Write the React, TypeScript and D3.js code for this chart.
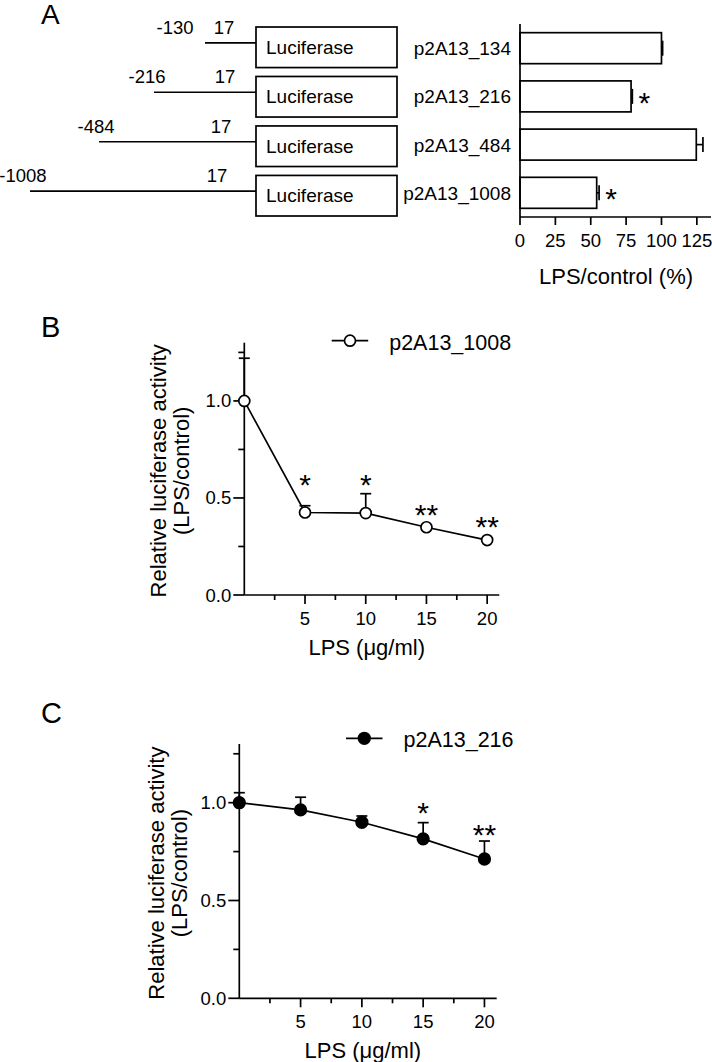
import React from "react";
import * as d3 from "d3";

// ---------- Panel A data ----------
const constructs = ["p2A13_134", "p2A13_216", "p2A13_484", "p2A13_1008"];
const promoterStart = [-130, -216, -484, -1008];
const promoterEnd = [17, 17, 17, 17];
const ratioMean = [100, 78.5, 124.6, 54.2];
const ratioErr = [0.8, 0.9, 4.7, 1.7];
const ratioSig = ["", "*", "", "*"];
const ratioTicks = [0, 25, 50, 75, 100, 125];

// ---------- Panels B / C data ----------
const lpsDose = [0, 5, 10, 15, 20];
const doseMajorTicks = [5, 10, 15, 20];
const doseMinorTicks = [2.5, 7.5, 12.5, 17.5];
const ratioMajorTicks = [0, 0.5, 1.0];
const ratioMinorTicks = [0.25, 0.75, 1.25];

const b1008Mean = [1.0, 0.425, 0.422, 0.349, 0.283];
const b1008Err = [0.22, 0.035, 0.1, 0, 0];
const b1008Sig = ["", "*", "*", "**", "**"];
const b1008SigLevel = [0, 0.603, 0.606, 0.447, 0.386];

const c216Mean = [1.0, 0.963, 0.9, 0.815, 0.712];
const c216Err = [0.051, 0.065, 0.032, 0.083, 0.092];
const c216Sig = ["", "", "", "*", "**"];
const c216SigLevel = [0, 0, 0, 0.983, 0.871];

const FONT = "'Liberation Sans', Arial, Helvetica, sans-serif";
const SW = 1.7;
const STAR = 30;

function PanelA() {
  const rowBand = d3.scaleBand().domain(constructs).range([27, 216]).paddingInner(0.18);
  const pos = d3
    .scaleLinear()
    .domain([-1008, -484, -216, -130, 17])
    .range([30, 99, 154, 205, 256]);
  const boxRight = 397;
  const startDx = [-30, -7, -3, -7];
  const endDx = [-32, -31, -35, -39];

  const barY = d3.scaleBand().domain(constructs).range([24, 217]).paddingInner(0.357).paddingOuter(0.18);
  const barX = d3.scaleLinear().domain([0, 135]).range([520, 711]);
  const axisY = 217;

  return (
    <g>
      <text x={41} y={24} fontSize={28} fontFamily={FONT}>A</text>
      {constructs.map((c, i) => {
        const y0 = rowBand(c)!;
        const h = rowBand.bandwidth();
        const cy = y0 + h / 2;
        const ly = cy - 4.5;
        const xs = pos(promoterStart[i]);
        const xe = pos(promoterEnd[i]);
        return (
          <g key={c}>
            <line x1={xs} x2={xe} y1={ly} y2={ly} stroke="#000" strokeWidth={SW} />
            <rect x={xe} y={y0} width={boxRight - xe} height={h} fill="#fff" stroke="#000" strokeWidth={SW} />
            <text x={xe + 10} y={cy + 6.5} fontSize={19} fontFamily={FONT}>Luciferase</text>
            <text x={xs + startDx[i]} y={ly - 9} fontSize={18.5} fontFamily={FONT} textAnchor="middle">
              {promoterStart[i]}
            </text>
            <text x={xe + endDx[i]} y={ly - 9} fontSize={18.5} fontFamily={FONT} textAnchor="middle">
              {promoterEnd[i]}
            </text>
          </g>
        );
      })}

      {/* bar chart */}
      {constructs.map((c, i) => {
        const y0 = barY(c)!;
        const h = barY.bandwidth();
        const cy = y0 + h / 2;
        const xEnd = barX(ratioMean[i]);
        const xErr = barX(ratioMean[i] + ratioErr[i]);
        return (
          <g key={c}>
            <rect x={barX(0)} y={y0} width={xEnd - barX(0)} height={h} fill="#fff" stroke="#000" strokeWidth={SW} />
            <line x1={xEnd} x2={xErr} y1={cy} y2={cy} stroke="#000" strokeWidth={SW} />
            <line x1={xErr} x2={xErr} y1={cy - 7.5} y2={cy + 7.5} stroke="#000" strokeWidth={SW} />
            <text x={barX(0) - 9} y={cy + 7} fontSize={19} fontFamily={FONT} textAnchor="end">{c}</text>
            {ratioSig[i] && (
              <text x={xErr + 12} y={cy + 0.575 * STAR - 1} fontSize={STAR} fontFamily={FONT} textAnchor="middle">
                {ratioSig[i]}
              </text>
            )}
          </g>
        );
      })}
      <line x1={barX(0)} x2={barX(0)} y1={24} y2={axisY} stroke="#000" strokeWidth={SW} />
      <line x1={barX(0)} x2={barX.range()[1]} y1={axisY} y2={axisY} stroke="#000" strokeWidth={SW} />
      {ratioTicks.map((t) => (
        <g key={t}>
          <line x1={barX(t)} x2={barX(t)} y1={axisY} y2={axisY + 8} stroke="#000" strokeWidth={SW} />
          <text x={barX(t)} y={axisY + 30} fontSize={18.5} fontFamily={FONT} textAnchor="middle">{t}</text>
        </g>
      ))}
      <text x={616} y={284} fontSize={22} fontFamily={FONT} textAnchor="middle">LPS/control (%)</text>
    </g>
  );
}

type LineProps = {
  letter: string;
  letterY: number;
  xRange: [number, number];
  yRange: [number, number];
  mean: number[];
  err: number[];
  sig: string[];
  sigLevel: number[];
  filled: boolean;
  legend: string;
  legendX: number;
  legendY: number;
  labelLine1X: number;
  labelLine2X: number;
};

function LinePanel(p: LineProps) {
  const x = d3.scaleLinear().domain([0, 21]).range(p.xRange);
  const y = d3.scaleLinear().domain([0, 1.3]).range(p.yRange);
  const x0 = x(0);
  const y0 = y(0);
  const line = d3
    .line<number>()
    .x((_, i) => x(lpsDose[i]))
    .y((d) => y(d));
  const labelCY = (y(0) + y(1.3)) / 2 + 2;
  const r = p.filled ? 5.8 : 5.5;
  const fmt = d3.format(".1f");
  return (
    <g>
      <text x={41} y={p.letterY} fontSize={29} fontFamily={FONT}>{p.letter}</text>
      {/* axes */}
      <line x1={x0} x2={x0} y1={y(1.3)} y2={y0} stroke="#000" strokeWidth={SW} />
      <line x1={x0} x2={x(21)} y1={y0} y2={y0} stroke="#000" strokeWidth={SW} />
      {ratioMajorTicks.map((t) => (
        <g key={"ym" + t}>
          <line x1={x0 - 11} x2={x0} y1={y(t)} y2={y(t)} stroke="#000" strokeWidth={SW} />
          <text x={x0 - 13} y={y(t) + 6.5} fontSize={18.5} fontFamily={FONT} textAnchor="end">{fmt(t)}</text>
        </g>
      ))}
      {ratioMinorTicks.map((t) => (
        <line key={"yn" + t} x1={x0 - 6} x2={x0} y1={y(t)} y2={y(t)} stroke="#000" strokeWidth={SW} />
      ))}
      {doseMajorTicks.map((t) => (
        <g key={"xm" + t}>
          <line x1={x(t)} x2={x(t)} y1={y0} y2={y0 + 9} stroke="#000" strokeWidth={SW} />
          <text x={x(t)} y={y0 + 29.5} fontSize={18.5} fontFamily={FONT} textAnchor="middle">{t}</text>
        </g>
      ))}
      {doseMinorTicks.map((t) => (
        <line key={"xn" + t} x1={x(t)} x2={x(t)} y1={y0} y2={y0 + 5} stroke="#000" strokeWidth={SW} />
      ))}
      <text x={x(10) + 1} y={y0 + 60} fontSize={22} fontFamily={FONT} textAnchor="middle">LPS (μg/ml)</text>
      <text
        transform={`translate(${p.labelLine1X},${labelCY}) rotate(-90)`}
        fontSize={22}
        fontFamily={FONT}
        textAnchor="middle"
      >
        Relative luciferase activity
      </text>
      <text
        transform={`translate(${p.labelLine2X},${labelCY}) rotate(-90)`}
        fontSize={22}
        fontFamily={FONT}
        textAnchor="middle"
      >
        (LPS/control)
      </text>
      {/* error bars */}
      {p.mean.map((m, i) =>
        p.err[i] > 0 ? (
          <g key={"e" + i}>
            <line x1={x(lpsDose[i])} x2={x(lpsDose[i])} y1={y(m)} y2={y(m + p.err[i])} stroke="#000" strokeWidth={SW} />
            <line
              x1={x(lpsDose[i]) - 5.5}
              x2={x(lpsDose[i]) + 5.5}
              y1={y(m + p.err[i])}
              y2={y(m + p.err[i])}
              stroke="#000"
              strokeWidth={SW}
            />
          </g>
        ) : null
      )}
      <path d={line(p.mean) || ""} fill="none" stroke="#000" strokeWidth={SW} />
      {p.mean.map((m, i) => (
        <circle
          key={"c" + i}
          cx={x(lpsDose[i])}
          cy={y(m)}
          r={r}
          fill={p.filled ? "#000" : "#fff"}
          stroke="#000"
          strokeWidth={SW}
        />
      ))}
      {p.sig.map((s, i) =>
        s ? (
          <text
            key={"s" + i}
            x={x(lpsDose[i])}
            y={y(p.sigLevel[i]) + 0.575 * STAR}
            fontSize={STAR}
            fontFamily={FONT}
            textAnchor="middle"
          >
            {s}
          </text>
        ) : null
      )}
      {/* legend */}
      <line x1={p.legendX} x2={p.legendX + 36.5} y1={p.legendY} y2={p.legendY} stroke="#000" strokeWidth={SW} />
      <circle
        cx={p.legendX + 18.3}
        cy={p.legendY}
        r={r}
        fill={p.filled ? "#000" : "#fff"}
        stroke="#000"
        strokeWidth={SW}
      />
      <text x={p.legendX + 57.5} y={p.legendY + 9} fontSize={21.5} fontFamily={FONT}>{p.legend}</text>
    </g>
  );
}

export default function App() {
  return (
    <svg
      width={712}
      height={1062}
      viewBox="0 0 712 1062"
      style={{ position: "absolute", left: 0, top: 0, background: "#fff" }}
    >
      <rect width={712} height={1062} fill="#fff" />
      <PanelA />
      <LinePanel
        letter="B"
        letterY={337}
        xRange={[244.3, 499.3]}
        yRange={[595, 342.7]}
        mean={b1008Mean}
        err={b1008Err}
        sig={b1008Sig}
        sigLevel={b1008SigLevel}
        filled={false}
        legend="p2A13_1008"
        legendX={331.7}
        legendY={340.7}
        labelLine1X={166}
        labelLine2X={189}
      />
      <LinePanel
        letter="C"
        letterY={723}
        xRange={[239.3, 496.7]}
        yRange={[998.3, 744]}
        mean={c216Mean}
        err={c216Err}
        sig={c216Sig}
        sigLevel={c216SigLevel}
        filled={true}
        legend="p2A13_216"
        legendX={346}
        legendY={738.3}
        labelLine1X={164}
        labelLine2X={187}
      />
    </svg>
  );
}
